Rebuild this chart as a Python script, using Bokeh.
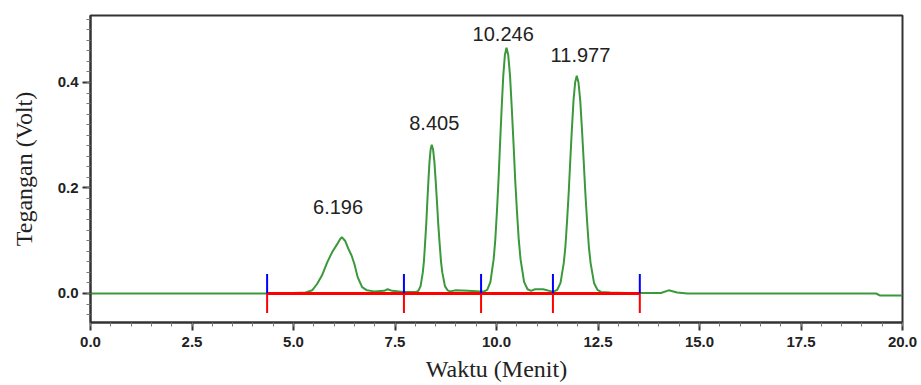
import numpy as np
from bokeh.plotting import figure
from bokeh.models import Range1d, FixedTicker, PrintfTickFormatter, ColumnDataSource
from bokeh.embed import file_html
from bokeh.resources import INLINE
from bokeh.core.properties import value

# ---- data ----
time_min = [0.0, 2.0, 3.9, 4.4, 5.0, 5.3, 5.46, 5.58, 5.70, 5.83, 5.95, 6.08, 6.14, 6.19, 6.27,
            6.35, 6.43, 6.50, 6.58, 6.69, 6.81, 6.98, 7.23, 7.32, 7.43, 7.70, 7.90,
            8.02, 8.075, 8.130, 8.185, 8.2125, 8.240, 8.2675, 8.295, 8.3225, 8.350, 8.3775,
            8.405, 8.4375, 8.470, 8.5025, 8.535, 8.5675, 8.600, 8.6325, 8.665, 8.730, 8.795,
            8.860, 9.0, 9.3, 9.6,
            9.693, 9.772, 9.851, 9.930, 9.9695, 10.009, 10.0485, 10.088, 10.1275, 10.167,
            10.2065, 10.246, 10.2893, 10.333, 10.376, 10.419, 10.462, 10.506, 10.549, 10.592,
            10.679, 10.765, 10.852, 10.95, 11.15, 11.35,
            11.417, 11.497, 11.577, 11.657, 11.697, 11.737, 11.777, 11.817, 11.857, 11.897,
            11.937, 11.977, 12.0195, 12.062, 12.1045, 12.147, 12.1895, 12.232, 12.2745,
            12.317, 12.402, 12.487, 12.572, 12.8, 13.2, 13.53,
            14.05, 14.24, 14.45, 14.7, 17.0, 19.35, 19.45, 20.0]
voltage = [0.000, 0.000, 0.000, 0.000, 0.001, 0.002, 0.006, 0.018, 0.034, 0.059, 0.078, 0.094, 0.102, 0.107, 0.100,
           0.085, 0.072, 0.056, 0.031, 0.012, 0.006, 0.004, 0.005, 0.008, 0.005, 0.003, 0.003,
           0.003, 0.005, 0.014, 0.040, 0.061, 0.094, 0.129, 0.172, 0.213, 0.250, 0.273,
           0.282, 0.273, 0.250, 0.213, 0.172, 0.129, 0.094, 0.061, 0.040, 0.014, 0.006,
           0.004, 0.006, 0.005, 0.004,
           0.004, 0.007, 0.022, 0.065, 0.101, 0.153, 0.213, 0.285, 0.352, 0.413,
           0.452, 0.466, 0.452, 0.413, 0.352, 0.285, 0.213, 0.153, 0.101, 0.065,
           0.022, 0.008, 0.005, 0.008, 0.008, 0.004,
           0.004, 0.007, 0.020, 0.058, 0.089, 0.136, 0.189, 0.252, 0.312, 0.366,
           0.400, 0.413, 0.400, 0.366, 0.312, 0.252, 0.189, 0.136, 0.089,
           0.058, 0.020, 0.007, 0.003, 0.002, 0.001, 0.001,
           0.001, 0.006, 0.002, 0.000, 0.000, 0.000, -0.004, -0.004]
assert len(time_min) == len(voltage)

boundaries = [4.35, 7.72, 9.62, 11.39, 13.53]
peak_times = [6.196, 8.405, 10.246, 11.977]
peak_heights = [0.107, 0.282, 0.466, 0.413]
peak_labels = ["6.196", "8.405", "10.246", "11.977"]

x_ticks = [0.0, 2.5, 5.0, 7.5, 10.0, 12.5, 15.0, 17.5, 20.0]
y_ticks = [0.0, 0.2, 0.4]

x_title = "Waktu (Menit)"
y_title = "Tegangan (Volt)"

# ---- figure ----
p = figure(width=921, height=385, output_backend="svg", toolbar_location=None,
           x_range=Range1d(0, 20), y_range=Range1d(-0.055, 0.527),
           min_border_left=90, min_border_right=19, min_border_top=15, min_border_bottom=63)
p.xgrid.visible = False
p.ygrid.visible = False
p.outline_line_color = "#333333"
p.outline_line_width = 2
p.outline_line_alpha = 1.0
p.background_fill_color = "white"
p.border_fill_color = "white"

p.xaxis.ticker = FixedTicker(ticks=x_ticks, minor_ticks=list(np.arange(0, 20.01, 0.5)))
p.yaxis.ticker = FixedTicker(ticks=y_ticks, minor_ticks=list(np.round(np.arange(-0.04, 0.521, 0.02), 3)))
p.xaxis.formatter = PrintfTickFormatter(format="%.1f")
p.yaxis.formatter = PrintfTickFormatter(format="%.1f")

for ax in (p.xaxis[0], p.yaxis[0]):
    ax.axis_line_color = "#333333"
    ax.axis_line_width = 2
    ax.major_tick_line_color = "#333333"
    ax.major_tick_line_width = 2
    ax.major_tick_out = 8
    ax.major_tick_in = 0
    ax.minor_tick_line_color = "#777777"
    ax.minor_tick_line_width = 1
    ax.minor_tick_out = 4
    ax.minor_tick_in = 0
    ax.major_label_text_font = "Liberation Sans"
    ax.major_label_text_font_style = "bold"
    ax.major_label_text_font_size = "15px"
    ax.major_label_text_color = "#222222"
    ax.axis_label_text_font = "Liberation Serif"
    ax.axis_label_text_font_style = "normal"
    ax.axis_label_text_font_size = "24px"
    ax.axis_label_text_color = "#222222"
p.xaxis.major_label_standoff = 6
p.yaxis.major_label_standoff = 4
p.xaxis.axis_label = x_title
p.yaxis.axis_label = y_title
p.xaxis.axis_label_standoff = 6
p.yaxis.axis_label_standoff = 18

# chromatogram trace
p.line(time_min, voltage, line_color="#3a993a", line_width=2)

# integration baseline and event markers
p.line([boundaries[0], boundaries[-1]], [0, 0], line_color="#ff0000", line_width=3)
mark_len = 0.037
p.segment(x0=boundaries, y0=[0] * len(boundaries), x1=boundaries, y1=[mark_len] * len(boundaries),
          line_color="#0000ff", line_width=2)
p.segment(x0=boundaries, y0=[0] * len(boundaries), x1=boundaries, y1=[-mark_len] * len(boundaries),
          line_color="#ff0000", line_width=2)

# peak labels
src = ColumnDataSource(dict(x=peak_times, y=peak_heights, t=peak_labels,
                            xo=[-4, 2.5, -3.3, 3.7], yo=[-30, -22, -14, -21]))
p.text(x="x", y="y", text="t", source=src, x_offset="xo", y_offset="yo",
       text_align="center", text_baseline="alphabetic",
       text_font=value("Liberation Sans"), text_font_size="20px", text_color="#222222")

open("out.html", "w").write(file_html(p, INLINE))
